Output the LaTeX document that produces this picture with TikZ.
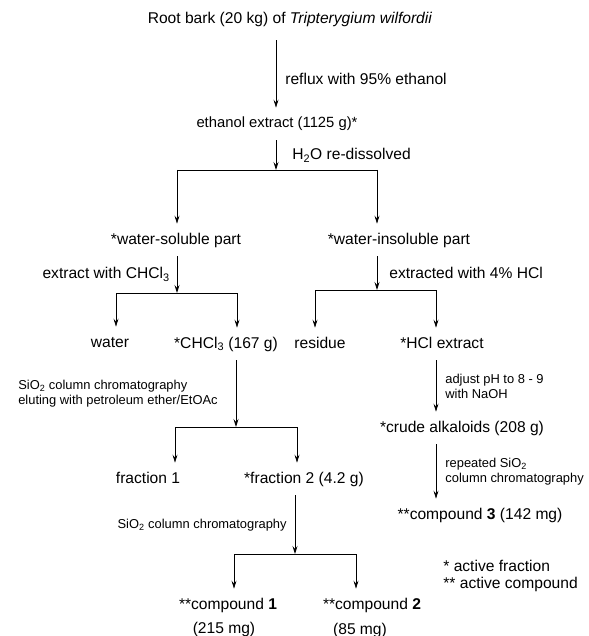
\documentclass[tikz,border=0pt]{standalone}
\usepackage{fontspec}
\setmainfont{Liberation Sans}
\usepackage{tikz}
\usetikzlibrary{arrows.meta,positioning}
\newcommand{\chclthree}{CHCl\textsubscript{3}}
\newcommand{\siotwo}{SiO\textsubscript{2}}

\begin{document}
\begin{tikzpicture}[->,>={Stealth[length=8pt,width=5pt,inset=3pt]},x=1pt,y=-1pt,
   line width=0.75pt,
   txt/.style={inner xsep=0pt,inner ysep=9pt,text height=11pt,text depth=3pt,
     font=\fontsize{15.6}{18}\selectfont},
   lbl/.style={inner sep=0pt,font=\fontsize{15.6}{18}\selectfont},
   small/.style={inner sep=0pt,align=left,font=\fontsize{12.9}{15}\selectfont}]
   \useasboundingbox (0,0) rectangle (588,636);
   \node[txt] (bark) at (290,20) {Root bark (20 kg) of \textit{Tripterygium wilfordii}};
   \node[txt,font=\fontsize{14.8}{17}\selectfont] (etoh) at (277,124) {ethanol extract (1125 g)*};
   \node[txt] (wsol) at (176,240) {*water-soluble part};
   \node[txt] (winsol) at (399,240) {*water-insoluble part};
   \node[txt] (water) at (110,343) {water};
   \node[txt] (chcl) at (226,344) {*\chclthree{} (167 g)};
   \node[txt] (residue) at (320,344) {residue};
   \node[txt] (hcl) at (442,344) {*HCl extract};
   \node[txt] (crude) at (462,428) {*crude alkaloids (208 g)};
   \node[txt] (frac1) at (148,479) {fraction 1};
   \node[txt] (frac2) at (304,479) {*fraction 2 (4.2 g)};
   \node[txt] (cpd3) at (480,515) {**compound \textbf{3} (142 mg)};
   \node[txt] (cpd1) at (228,605) {**compound \textbf{1}};
   \node[txt] (cpd1m) at (224,629) {(215 mg)};
   \node[txt] (cpd2) at (372,605) {**compound \textbf{2}};
   \node[txt] (cpd2m) at (360,630) {(85 mg)};
   \node[lbl,anchor=west,align=left,font=\fontsize{15.6}{17}\selectfont] (key) at (443,575.5)
     {* active fraction\\{**} active compound};
   % branch points
   \coordinate (t1) at (276,170); \coordinate (t1l) at (177,170); \coordinate (t1r) at (377,170);
   \coordinate (t2) at (177,293); \coordinate (t2l) at (116,293); \coordinate (t2r) at (237,293);
   \coordinate (t3) at (377,290); \coordinate (t3l) at (315,290); \coordinate (t3r) at (436,290);
   \coordinate (t4) at (236,427); \coordinate (t4l) at (175,427); \coordinate (t4r) at (297,427);
   \coordinate (t5) at (295,554); \coordinate (t5l) at (234,554); \coordinate (t5r) at (356,554);
  \path (bark.south -| t1) edge[shorten <=4pt] node[lbl,right=9pt,pos=.6] {reflux with 95\% ethanol} (etoh.north -| t1);
  \path (etoh.south -| t1) edge node[lbl,right=16pt] {H\textsubscript{2}O re-dissolved} (t1);
  \draw[-] (t1l) -- (t1r);
  \path (t1l) edge (t1l |- wsol.north) (t1r) edge (t1r |- winsol.north);
  \path (wsol.south -| t2) edge node[lbl,left=7pt] {extract with \chclthree} (t2);
  \draw[-] (t2l) -- (t2r);
  \path (t2l) edge (t2l |- water.north) (t2r) edge (t2r |- chcl.north);
  \path (winsol.south -| t3) edge node[lbl,right=12pt] {extracted with 4\% HCl} (t3);
  \draw[-] (t3l) -- (t3r);
  \path (t3l) edge (t3l |- residue.north) (t3r) edge (t3r |- hcl.north);
  \path (chcl.south -| t4) edge node[small,left=18pt] {\siotwo{} column chromatography\\eluting with petroleum ether/EtOAc} (t4);
  \draw[-] (t4l) -- (t4r);
  \path (t4l) edge (t4l |- frac1.north) (t4r) edge (t4r |- frac2.north);
  \path (frac2.south -| t5) edge node[small,left=8pt] {\siotwo{} column chromatography} (t5);
  \draw[-] (t5l) -- (t5r);
  \path (t5l) edge (t5l |- cpd1.north) (t5r) edge (t5r |- cpd2.north);
  \path (hcl.south -| t3r) edge node[small,right=9pt] {adjust pH to 8 - 9\\with NaOH} (crude.north -| t3r);
  \path (crude.south -| t3r) edge node[small,right=9pt] {repeated \siotwo\\column chromatography} (cpd3.north -| t3r);
  \end{tikzpicture}
\end{document}
